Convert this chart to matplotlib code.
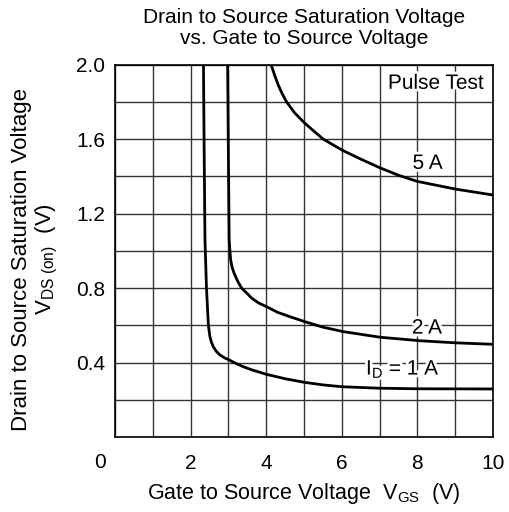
import matplotlib
matplotlib.use("Agg")
import matplotlib.pyplot as plt
import matplotlib.patheffects as pe

plt.rcParams['font.family'] = ['Liberation Sans', 'DejaVu Sans']
plt.rcParams['mathtext.fontset'] = 'custom'
plt.rcParams['mathtext.rm'] = 'Liberation Sans'
plt.rcParams['mathtext.it'] = 'Liberation Sans'

# curves (V_GS, V_DS(on))
vgs_1a = [2.34, 2.36, 2.38, 2.42, 2.47, 2.51, 2.55, 2.60, 2.68, 2.78, 2.90, 3.02, 3.20, 3.39,
          3.60, 3.84, 4.0, 4.5, 5.0, 5.5, 6.0, 7.0, 8.0, 10.0]
vds_1a = [2.0, 1.5, 1.06, 0.80, 0.60, 0.54, 0.51, 0.485, 0.46, 0.44, 0.425, 0.414, 0.395, 0.378,
          0.362, 0.347, 0.337, 0.313, 0.294, 0.280, 0.270, 0.262, 0.259, 0.258]

vgs_2a = [2.98, 3.0, 3.02, 3.04, 3.06, 3.10, 3.15, 3.25, 3.35, 3.50, 3.62, 3.80, 4.01, 4.30,
          4.63, 5.03, 5.50, 6.04, 7.01, 8.07, 9.0, 10.0]
vds_2a = [2.0, 1.5, 1.06, 1.0, 0.95, 0.91, 0.88, 0.835, 0.80, 0.77, 0.745, 0.72, 0.70, 0.67,
          0.646, 0.619, 0.59, 0.566, 0.536, 0.517, 0.506, 0.498]

vgs_5a = [4.13, 4.22, 4.32, 4.42, 4.54, 4.75, 5.0, 5.25, 5.51, 6.0, 6.5, 7.0, 7.5, 8.0, 9.0, 10.0]
vds_5a = [2.0, 1.945, 1.89, 1.845, 1.80, 1.742, 1.69, 1.645, 1.60, 1.542, 1.493, 1.447, 1.406,
          1.373, 1.332, 1.30]

x_ticks = [2, 4, 6, 8, 10]
y_ticks = [0.4, 0.8, 1.2, 1.6, 2.0]

fig = plt.figure(figsize=(5.1, 5.12), dpi=100)
ax = fig.add_axes([0.2255, 0.1465, 0.7412, 0.7271])

ax.set_xlim(0, 10)
ax.set_ylim(0, 2.0)
ax.set_xticks(range(0, 11))
ax.set_yticks([i * 0.2 for i in range(11)])
ax.grid(True, color='#333333', linewidth=1.0)
ax.set_xticklabels(['' if v not in x_ticks else str(v) for v in range(0, 11)])
ax.set_yticklabels(['' if round(i * 0.2, 1) not in y_ticks else '%.1f' % (i * 0.2) for i in range(11)])
ax.tick_params(length=0, labelsize=15, pad=7)
ax.tick_params(axis='x', pad=12)
for s in ax.spines.values():
    s.set_linewidth(1.2)

for xs, ys in [(vgs_1a, vds_1a), (vgs_2a, vds_2a), (vgs_5a, vds_5a)]:
    ax.plot(xs, ys, color='black', linewidth=2, solid_capstyle='butt', solid_joinstyle='round')

halo = [pe.withStroke(linewidth=4, foreground='white')]
ax.text(9.76, 1.90, 'Pulse Test', ha='right', va='center', fontsize=15, path_effects=halo)
ax.text(8.27, 1.47, '5 A', ha='center', va='center', fontsize=15, path_effects=halo)
ax.text(8.25, 0.585, '2 A', ha='center', va='center', fontsize=15, path_effects=halo)
ax.text(7.62, 0.364, r'I$_\mathregular{D}$ = 1 A', ha='center', va='center', fontsize=15, path_effects=halo)

# shared origin label
ax.text(-0.4, -0.135, '0', ha='center', va='center', fontsize=15, clip_on=False)

ax.set_title('Drain to Source Saturation Voltage\nvs. Gate to Source Voltage', fontsize=15, pad=15, linespacing=1.12)
ax.set_xlabel(r'Gate to Source Voltage  V$_\mathregular{GS}$  (V)', fontsize=15.5, labelpad=6)
ax.set_ylabel('Drain to Source Saturation Voltage\n' + r'V$_\mathregular{DS\ (on)}$  (V)', fontsize=16, linespacing=1.1)
ax.yaxis.set_label_coords(-0.145, 0.478)

fig.savefig('out.png', dpi=100)
